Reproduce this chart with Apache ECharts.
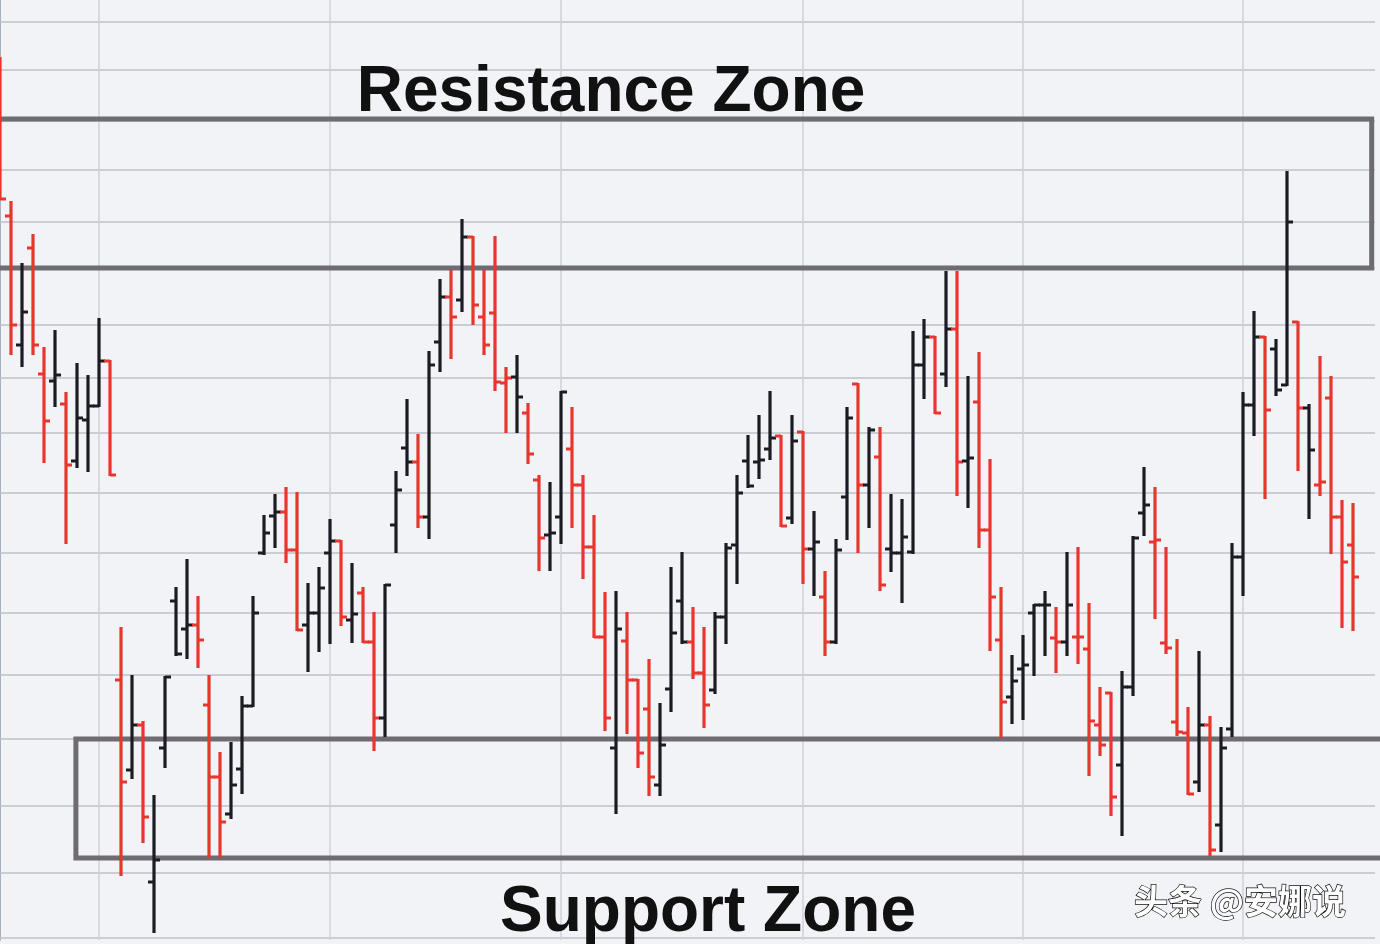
<!DOCTYPE html>
<html><head><meta charset="utf-8">
<script src="https://cdn.jsdelivr.net/npm/echarts@6/dist/echarts.min.js"></script>
<style>html,body{margin:0;padding:0;background:#f2f3f7}#chart{width:1380px;height:944px}</style>
</head><body><div id="chart"></div>
<script>
// ---- data (price units) ----
const sessions = Array.from({length: 124}, (_, k) => k);
const highs = [882,738,676,705,592,609,547,576,564,621, 579,312,264,218,144,263,352,380,343,264,
  187,197,243,343,424,445,452,447,356,372, 420,399,376,352,327,355,468,540,505,588,
  660,669,720,703,669,703,572,584,536,464, 457,548,532,464,424,347,348,327,260,280,
  236,372,387,332,312,327,396,464,504,524, 548,504,524,508,428,368,400,532,556,512,
  512,445,440,608,620,603,668,668,563,587, 480,352,284,304,335,348,332,387,392,336,
  252,247,268,403,472,452,392,300,232,288, 223,212,396,547,628,603,600,768,618,535,
  583,563,439,436];
const lows = [741,586,574,586,478,534,397,473,469,534, 465,65,162,98,8,173,285,282,273,83,
  83,122,147,234,386,393,378,310,269,289, 297,315,298,298,190,204,388,465,413,402,
  569,582,629,616,586,550,508,508,477,370, 370,397,413,362,303,210,127,207,173,145,
  145,229,297,262,213,247,297,357,453,462, 481,414,417,357,345,285,297,401,388,413,
  350,369,338,387,542,527,554,445,433,393, 290,203,217,221,265,285,268,285,277,165,
  185,125,105,245,405,322,287,205,146,149, 85,89,204,345,505,442,545,555,470,422,
  445,387,313,310];
const opens = [820,724,595,692,566,559,536,479,520,534, 579,260,170,215,58,192,339,311,315,235,
  163,126,171,234,387,424,428,390,315,327, 387,399,320,347,298,222,415,492,478,423,
  598,643,640,703,623,627,557,563,527,460, 405,423,491,455,393,303,192,299,260,231,
  155,251,339,298,267,250,323,395,479,478, 491,504,422,508,391,343,298,443,556,455,
  483,391,387,388,575,603,566,611,479,538, 410,300,243,271,327,335,302,298,303,291,
  215,247,175,253,427,398,297,218,207,158, 215,115,211,383,535,603,591,555,618,532,
  455,542,423,395];
const closes = [741,615,628,595,519,565,475,522,534,579, 465,158,215,123,80,263,286,315,300,163,
  118,155,234,327,407,428,390,310,327,352, 399,323,326,298,222,355,450,478,423,575,
  643,623,703,635,595,558,562,543,486,402, 407,548,455,393,303,222,311,260,187,163,
  195,307,298,267,235,323,392,447,454,480, 502,414,499,391,398,298,390,522,455,510,
  355,387,403,575,603,527,611,478,482,410, 343,238,259,275,335,335,298,335,303,219,
  195,143,253,402,435,400,292,208,146,215, 90,192,383,535,603,530,550,718,532,490,
  458,423,378,363];
// U = rising bar (drawn black), D = falling bar (drawn red)
const trend = ['DDUDDUDUUU','DDUDUUUUDD','DUUUUUDDUU','UDUDDUUUDU','UDUDDDDUDD',
  'UUDDDDUDDD','UUUDDUUUUU','UDUDUDUUDU','DUUUUDUDUD','DDUUUUDUDD',
  'DDUUUDDDDU','DUUUUDUUDU','DDDD'].join('').split('');
// chart furniture
const gridLevels = [918,870,819,770,718,672,615,562,507,447,387,327,265,201,134,67,2];
const vGridAt = [9,30,51,73,93,113];
const resistanceZone = {from: -3, to: 124.7, low: 672, high: 821};
const supportZone = {from: 6.9, to: 128, low: 82, high: 201};

const RED = '#e8352d', BLACK = '#1c1b24';
const bars = sessions.map(k => [k, opens[k], closes[k], lows[k], highs[k], trend[k] === 'U' ? 1 : 0]);
const zones = [resistanceZone, supportZone].map(z => [z.from, z.to, z.low, z.high]);

const chart = echarts.init(document.getElementById('chart'), null, {renderer: 'canvas'});
chart.setOption({
  backgroundColor: '#f2f3f7',
  animation: false,
  grid: {left: 0, right: 5, top: 0, bottom: 4, containLabel: false},
  xAxis: {type: 'value', min: 0, max: 125, show: false},
  yAxis: {
    type: 'value', min: 0, max: 940, interval: 58.75, position: 'right',
    axisLine: {show: true, lineStyle: {color: '#a7b1bd', width: 2}},
    axisTick: {show: true, inside: true, length: 9, lineStyle: {color: '#8d97a3', width: 2}},
    minorTick: {show: true, splitNumber: 10, length: 3, lineStyle: {color: '#a7b1bd'}},
    axisLabel: {show: false}, splitLine: {show: false}
  },
  series: [
    {
      type: 'line', data: [], z: 1, silent: true,
      markLine: {
        z: 1, silent: true, symbol: ['none', 'none'], label: {show: false}, animation: false,
        lineStyle: {color: '#bcc1c8', width: 1.6, type: 'solid'},
        data: gridLevels.map(v => ({yAxis: v}))
          .concat(vGridAt.map(v => ({xAxis: v, lineStyle: {color: '#d0d4da', width: 1.6, type: 'solid'}})))
      }
    },
    {
      type: 'custom', z: 6, clip: false, silent: true,
      data: zones,
      renderItem(params, api) {
        const p0 = api.coord([api.value(0), api.value(3)]);
        const p1 = api.coord([api.value(1), api.value(2)]);
        return {type: 'rect', shape: {x: p0[0], y: p0[1], width: p1[0] - p0[0], height: p1[1] - p0[1]},
          style: {fill: 'none', stroke: '#6f6b72', lineWidth: 5}};
      }
    },
    {
      type: 'custom', z: 8, clip: false,
      data: bars,
      encode: {x: 0, y: [1, 2, 3, 4]},
      renderItem(params, api) {
        const i = api.value(0);
        const o = api.coord([i, api.value(1)]);
        const c = api.coord([i, api.value(2)]);
        const l = api.coord([i, api.value(3)]);
        const h = api.coord([i, api.value(4)]);
        const color = api.value(5) === 1 ? BLACK : RED;
        const t = 6;
        return {type: 'group', children: [
          {type: 'line', shape: {x1: h[0], y1: h[1] - 1, x2: l[0], y2: l[1] + 1}, style: {stroke: color, lineWidth: 3.2}},
          {type: 'line', shape: {x1: o[0] - t, y1: o[1], x2: o[0], y2: o[1]}, style: {stroke: color, lineWidth: 3}},
          {type: 'line', shape: {x1: c[0], y1: c[1], x2: c[0] + t, y2: c[1]}, style: {stroke: color, lineWidth: 3}}
        ]};
      }
    }
  ],
  graphic: [
    {type: 'text', x: 611, y: 93, z: 10, style: {text: 'Resistance Zone', align: 'center', verticalAlign: 'middle',
      font: 'bold 64px "Liberation Sans", Arial, sans-serif', fill: '#111',
      shadowColor: 'rgba(0,0,0,0.25)', shadowOffsetX: 2, shadowOffsetY: 2, shadowBlur: 2}},
    {type: 'text', x: 708, y: 913, z: 10, style: {text: 'Support Zone', align: 'center', verticalAlign: 'middle',
      font: 'bold 64px "Liberation Sans", Arial, sans-serif', fill: '#111',
      shadowColor: 'rgba(0,0,0,0.25)', shadowOffsetX: 2, shadowOffsetY: 2, shadowBlur: 2}},
    {type: 'text', x: 1134, y: 901, z: 10, style: {text: '头条 @安娜说', align: 'left', verticalAlign: 'middle',
      font: 'bold 34px "Noto Sans CJK SC", sans-serif', fill: '#ffffff', stroke: '#111111', lineWidth: 1.4,
      shadowColor: 'rgba(0,0,0,0.9)', shadowOffsetX: 2, shadowOffsetY: 2, shadowBlur: 1}}
  ]
});
</script>
</body></html>
